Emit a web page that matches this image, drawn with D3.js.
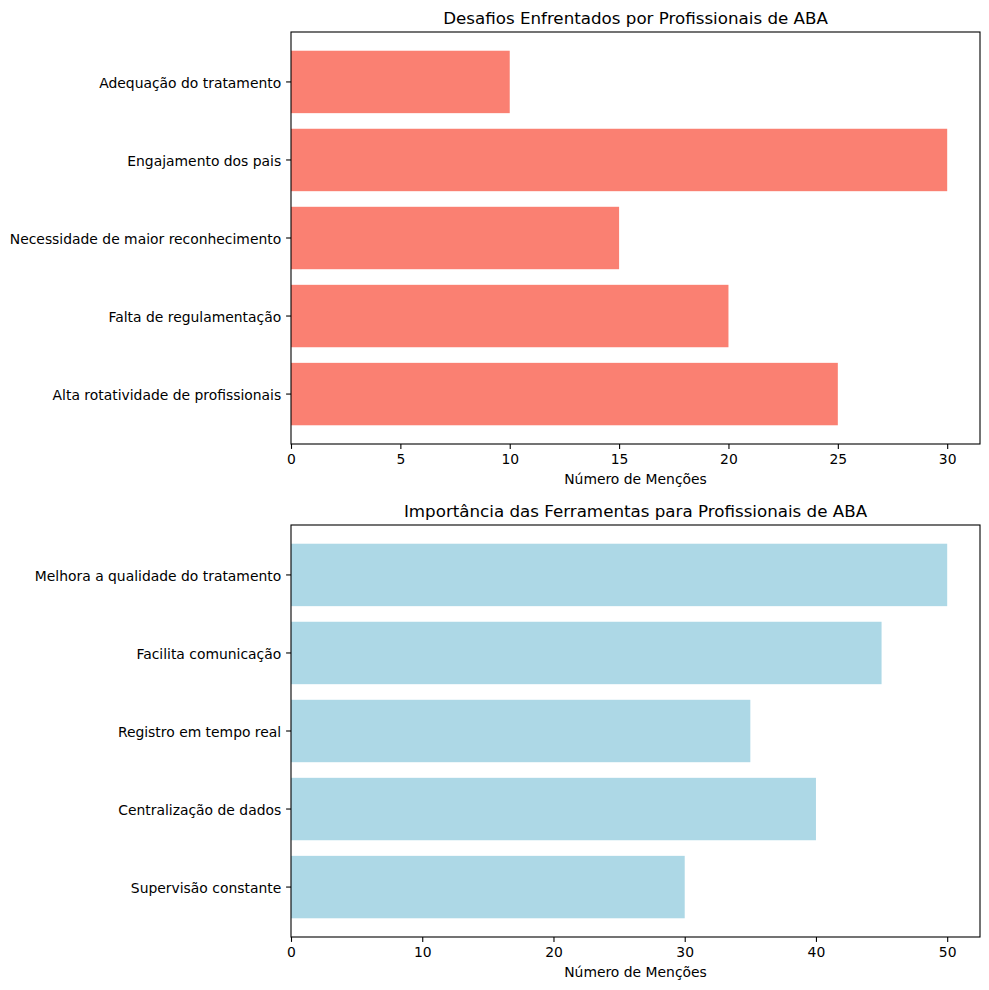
<!DOCTYPE html>
<html><head><meta charset="utf-8">
<script src="https://cdn.jsdelivr.net/npm/d3@7"></script>
<style>body{margin:0;background:#fff}svg{display:block}text{font-family:"DejaVu Sans",sans-serif;fill:#000}</style>
</head><body>
<script>
const challengeCategories = ["Alta rotatividade de profissionais","Falta de regulamentação","Necessidade de maior reconhecimento","Engajamento dos pais","Adequação do tratamento"];
const challengeValues = [25, 20, 15, 30, 10];
const challengeTicks = [0, 5, 10, 15, 20, 25, 30];
const toolCategories = ["Supervisão constante","Centralização de dados","Registro em tempo real","Facilita comunicação","Melhora a qualidade do tratamento"];
const toolValues = [30, 40, 35, 45, 50];
const toolTicks = [0, 10, 20, 30, 40, 50];
const titles = ["Desafios Enfrentados por Profissionais de ABA","Importância das Ferramentas para Profissionais de ABA"];
const xLabel = "Número de Menções";

const W = 989, H = 990;
const svg = d3.select("body").append("svg").attr("width", W).attr("height", H);

function panel(top, cats, vals, ticks, color, title) {
  const left = 291, right = 980, bottom = top + 412;
  const x = d3.scaleLinear().domain([0, d3.max(vals) * 1.05]).range([left, right]);
  const y = d3.scaleBand().domain(cats).range([bottom, top]).paddingInner(0.2).paddingOuter(0.24);
  const g = svg.append("g");
  g.selectAll("rect.bar").data(cats).enter().append("rect")
    .attr("x", x(0)).attr("y", d => y(d))
    .attr("width", (d, i) => x(vals[i]) - x(0)).attr("height", y.bandwidth())
    .attr("fill", color);
  g.append("rect").attr("x", left).attr("y", top).attr("width", right - left).attr("height", bottom - top)
    .attr("fill", "none").attr("stroke", "#000").attr("stroke-width", 1.1);
  const xa = g.append("g").attr("transform", `translate(0,${bottom})`)
    .call(d3.axisBottom(x).tickValues(ticks).tickSize(4.9).tickPadding(4.9).tickFormat(d3.format("d")));
  xa.select(".domain").remove();
  xa.selectAll("text").attr("font-size", "13.9px").style("font-family", "DejaVu Sans");
  xa.selectAll("line").attr("stroke-width", 1.1);
  const ya = g.append("g").attr("transform", `translate(${left},0)`)
    .call(d3.axisLeft(y).tickSize(4.9).tickPadding(4.9));
  ya.select(".domain").remove();
  ya.selectAll("text").attr("font-size", "13.9px").attr("dy", "0.42em").style("font-family", "DejaVu Sans");
  ya.selectAll("line").attr("stroke-width", 1.1);
  g.append("text").attr("x", (left + right) / 2).attr("y", bottom + 40)
    .attr("text-anchor", "middle").attr("font-size", "13.9px").text(xLabel);
  g.append("text").attr("x", (left + right) / 2).attr("y", top - 8)
    .attr("text-anchor", "middle").attr("font-size", "16.7px").text(title);
}

panel(32, challengeCategories, challengeValues, challengeTicks, "#FA8072", titles[0]);
panel(525, toolCategories, toolValues, toolTicks, "#ADD8E6", titles[1]);
</script>
</body></html>
